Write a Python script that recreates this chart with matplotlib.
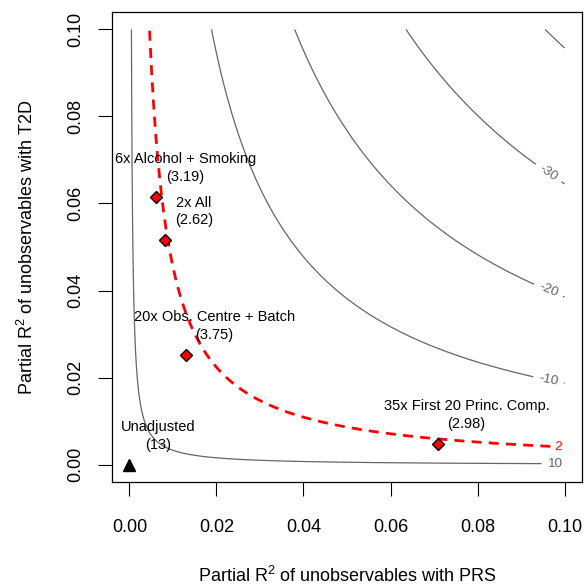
import numpy as np
import matplotlib
matplotlib.use("Agg")
import matplotlib.pyplot as plt

plt.rcParams['font.family'] = ['Liberation Sans', 'DejaVu Sans']
plt.rcParams['mathtext.fontset'] = 'custom'
plt.rcParams['mathtext.rm'] = 'Liberation Sans'

# model: unadjusted t-value and residual degrees of freedom
T_UNADJ = 13.0
DOF = 265000
THRESHOLD = 2

# contour levels of the adjusted t-value
labelled_levels = [-30, -20, -10]
low_level = [10]
unlabelled_levels = [-40]

# benchmark bounds
bench_names = ["6x Alcohol + Smoking", "2x All", "20x Obs. Centre + Batch",
               "35x First 20 Princ. Comp."]
bench_r2dz = [0.0062, 0.0082, 0.0129, 0.0708]
bench_r2yz = [0.0614, 0.0515, 0.0252, 0.0048]
bench_t = ["3.19", "2.62", "3.75", "2.98"]

xticks = [0.00, 0.02, 0.04, 0.06, 0.08, 0.10]
lim = 0.1


def adjusted_t(r2dz, r2yz):
    bias = np.sqrt(DOF * r2yz * r2dz / (1 - r2dz))
    se_ratio = np.sqrt((1 - r2yz) / (1 - r2dz) * DOF / (DOF - 1))
    return (T_UNADJ - bias) / se_ratio


grid = np.linspace(0, lim, 1001)
X, Y = np.meshgrid(grid, grid)
T = adjusted_t(X, Y)

fig = plt.figure(figsize=(5.84, 5.86), dpi=100)
ax = fig.add_axes([112 / 584, 1 - 482 / 586, 470 / 584, 470 / 586])

grey = '#666666'
ax.contour(X, Y, T, levels=unlabelled_levels, colors=grey, linewidths=0.9,
           negative_linestyles='solid')
cs = ax.contour(X, Y, T, levels=labelled_levels, colors=grey, linewidths=0.9,
                negative_linestyles='solid')
cs_low = ax.contour(X, Y, T, levels=low_level, colors=grey, linewidths=0.9)
cs_thr = ax.contour(X, Y, T, levels=[THRESHOLD], colors='red', linewidths=2.0,
                    linestyles=[(0, (3.6, 2.6))])


def label_spots(cset, xpos):
    spots = []
    for segs in cset.allsegs:
        pts = np.vstack(segs)
        i = np.argmin(np.abs(pts[:, 0] - xpos))
        spots.append((pts[i, 0], pts[i, 1]))
    return spots


fmt = lambda v: f"{v:g}"
ax.clabel(cs, inline=True, fmt=fmt, fontsize=9.7, colors=grey,
          manual=label_spots(cs, 0.0963), inline_spacing=7)
ax.clabel(cs_low, inline=True, fmt=fmt, fontsize=9.7, colors=grey,
          manual=label_spots(cs_low, 0.0976), inline_spacing=6)
ax.clabel(cs_thr, inline=True, fmt=fmt, fontsize=9.7, colors='red',
          manual=label_spots(cs_thr, 0.0986), inline_spacing=5)

# unadjusted point
bump = lim / 15
ax.plot([0], [0], marker='^', color='black', markersize=9, linestyle='none')
ax.text(0 + bump, 0 + bump, f"Unadjusted\n({T_UNADJ:g})", ha='center',
        va='center', fontsize=10.5, linespacing=1.35)

# benchmarks
ax.plot(bench_r2dz, bench_r2yz, marker='D', color='red', markeredgecolor='black',
        markersize=6.3, markeredgewidth=1, linestyle='none')
for name, x, y, t in zip(bench_names, bench_r2dz, bench_r2yz, bench_t):
    ax.text(x + bump, y + bump, f"{name}\n({t})", ha='center', va='center',
            fontsize=10.5, linespacing=1.35)

ax.set_xlim(-0.004, 0.104)
ax.set_ylim(-0.004, 0.104)
ax.set_xticks(xticks)
ax.set_yticks(xticks)
ax.set_xticklabels([f"{v:.2f}" for v in xticks])
ax.set_yticklabels([f"{v:.2f}" for v in xticks], rotation=90, va='center')
ax.tick_params(axis='both', length=10, width=0.8, labelsize=13)
ax.tick_params(axis='x', pad=17)
ax.tick_params(axis='y', pad=10)
for s in ax.spines.values():
    s.set_linewidth(0.9)

ax.set_xlabel(r"Partial R$^2$ of unobservables with PRS", fontsize=13, labelpad=21)
ax.set_ylabel(r"Partial R$^2$ of unobservables with T2D", fontsize=13, labelpad=22)

fig.savefig("out.png", dpi=100)
